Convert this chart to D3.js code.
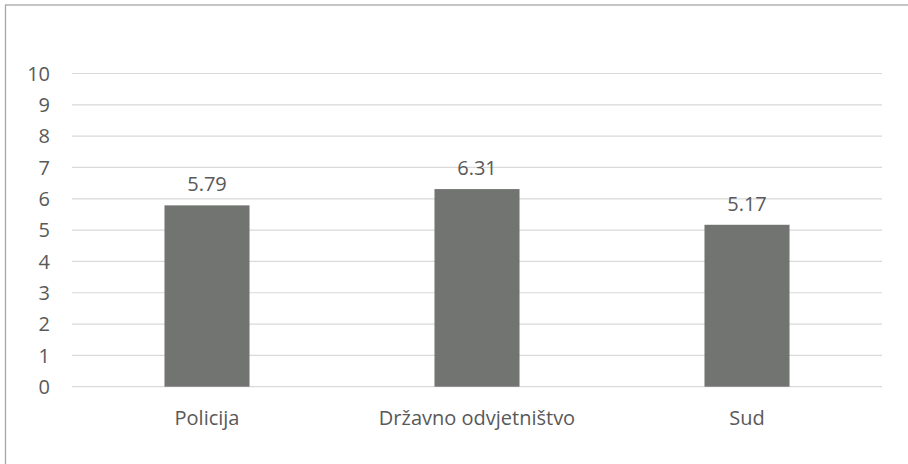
<!DOCTYPE html>
<html>
<head>
<meta charset="utf-8">
<script src="https://cdn.jsdelivr.net/npm/d3@7"></script>
<style>
  body { margin: 0; background: #fff; }
  text { font-family: "Open Sans", sans-serif; fill: #595959; }
</style>
</head>
<body>
<div id="chart"></div>
<script>
var categories = ['Policija', 'Državno odvjetništvo', 'Sud'];
var values = [5.79, 6.31, 5.17];
var yTicks = [0, 1, 2, 3, 4, 5, 6, 7, 8, 9, 10];

var w = 908, h = 464;
var plotLeft = 72, plotRight = 882, plotTop = 73.5, plotBottom = 386.7;

var svg = d3.select('#chart').append('svg')
    .attr('width', w)
    .attr('height', h)
    .style('display', 'block');

// outer frame (only top and left edges fall inside the picture)
svg.append('rect')
    .attr('x', 5.5).attr('y', 5)
    .attr('width', w + 20).attr('height', h + 20)
    .attr('fill', 'none')
    .attr('stroke', '#a6a6a6')
    .attr('stroke-width', 1.3);

var x = d3.scaleBand()
    .domain(categories)
    .range([plotLeft, plotRight])
    .paddingInner(0.685)
    .paddingOuter(0.3425);

var y = d3.scaleLinear()
    .domain([0, 10])
    .range([plotBottom, plotTop]);

// gridlines
svg.selectAll('line.grid')
    .data(yTicks)
    .enter()
    .append('line')
    .attr('class', 'grid')
    .attr('x1', plotLeft).attr('x2', plotRight)
    .attr('y1', function (d) { return y(d); })
    .attr('y2', function (d) { return y(d); })
    .attr('stroke', '#d9d9d9')
    .attr('stroke-width', 1.2);

// y labels
svg.selectAll('text.ytick')
    .data(yTicks)
    .enter()
    .append('text')
    .attr('class', 'ytick')
    .attr('x', 50)
    .attr('y', function (d) { return y(d); })
    .attr('dy', '0.36em')
    .attr('text-anchor', 'end')
    .style('font-size', '20px')
    .text(function (d) { return d; });

// bars
svg.selectAll('rect.bar')
    .data(values)
    .enter()
    .append('rect')
    .attr('class', 'bar')
    .attr('x', function (d, i) { return x(categories[i]); })
    .attr('y', function (d) { return y(d); })
    .attr('width', x.bandwidth())
    .attr('height', function (d) { return y(0) - y(d); })
    .attr('fill', '#727472');

// value labels
svg.selectAll('text.val')
    .data(values)
    .enter()
    .append('text')
    .attr('class', 'val')
    .attr('x', function (d, i) { return x(categories[i]) + x.bandwidth() / 2; })
    .attr('y', function (d) { return y(d) - 14; })
    .attr('text-anchor', 'middle')
    .style('font-size', '20px')
    .text(function (d) { return d.toFixed(2); });

// category labels
svg.selectAll('text.cat')
    .data(categories)
    .enter()
    .append('text')
    .attr('class', 'cat')
    .attr('x', function (d) { return x(d) + x.bandwidth() / 2; })
    .attr('y', 425)
    .attr('text-anchor', 'middle')
    .style('font-size', '20px')
    .text(function (d) { return d; });
</script>
</body>
</html>
